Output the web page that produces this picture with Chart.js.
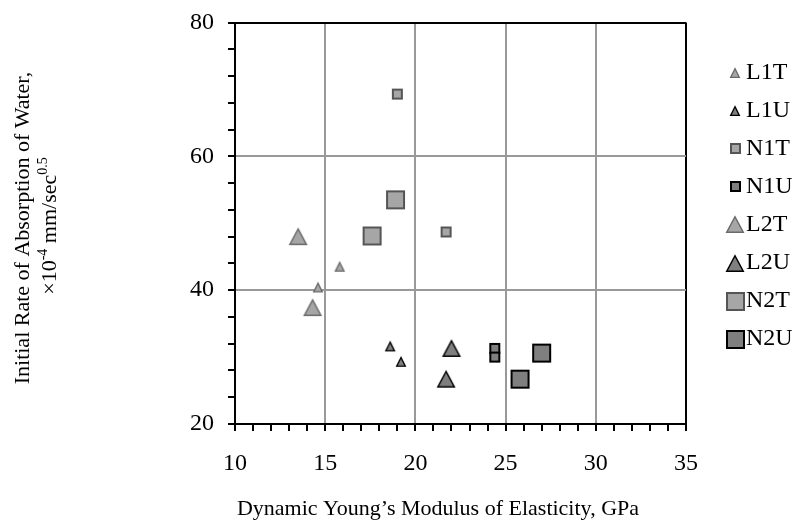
<!DOCTYPE html>
<html>
<head>
<meta charset="utf-8">
<script src="https://cdn.jsdelivr.net/npm/chart.js@4/dist/chart.umd.min.js"></script>
<style>
  html, body { margin: 0; padding: 0; background: #fff; }
  #c { display: block; }
</style>
</head>
<body>
<canvas id="c" width="800" height="527"></canvas>
<script>
// Series: dynamic modulus (GPa) vs initial rate of absorption (x10^-4 mm/sec^0.5)
const seriesNames = ['L1T', 'L1U', 'N1T', 'N1U', 'L2T', 'L2U', 'N2T', 'N2U'];
const L1T_x = [14.6, 15.8];  const L1T_y = [40.4, 43.5];
const L1U_x = [18.6, 19.2];  const L1U_y = [31.6, 29.3];
const N1T_x = [19.0, 21.7];  const N1T_y = [69.3, 48.7];
const N1U_x = [24.4, 24.4];  const N1U_y = [31.3, 30.0];
const L2T_x = [13.5, 14.3];  const L2T_y = [48.0, 37.4];
const L2U_x = [22.0, 21.7];  const L2U_y = [31.3, 26.7];
const N2T_x = [17.6, 18.9];  const N2T_y = [48.1, 53.5];
const N2U_x = [27.0, 25.8];  const N2U_y = [30.6, 26.7];

const xTicks = [10, 15, 20, 25, 30, 35];
const yTicks = [20, 40, 60, 80];
const xTitle = 'Dynamic Young\u2019s Modulus of Elasticity, GPa';
const yTitleLine1 = 'Initial Rate of Absorption of Water,';
const yTitleLine2 = [{ t: '\u00d710' }, { t: '-4', sup: true }, { t: ' mm/sec' }, { t: '0.5', sup: true }];

const FAMILY = '"Liberation Serif", "Times New Roman", serif';
const LIGHT = '#a6a6a6', DARK = '#7f7f7f';

// Marker images, centred on their bounding box
function marker(shape, w, h, fill, stroke, lw) {
  const pad = 3;
  const c = document.createElement('canvas');
  c.width = Math.round(w + pad * 2);
  c.height = Math.round(h + pad * 2);
  const g = c.getContext('2d');
  const cx = c.width / 2, cy = c.height / 2;
  g.fillStyle = fill; g.strokeStyle = stroke; g.lineWidth = lw; g.lineJoin = 'miter';
  g.beginPath();
  if (shape === 'tri') {
    g.moveTo(cx, cy - h / 2 + lw / 2);
    g.lineTo(cx + w / 2 - lw / 2, cy + h / 2 - lw / 2);
    g.lineTo(cx - w / 2 + lw / 2, cy + h / 2 - lw / 2);
    g.closePath();
  } else {
    g.rect(cx - w / 2 + lw / 2, cy - h / 2 + lw / 2, w - lw, h - lw);
  }
  g.fill(); g.stroke();
  return c;
}

const styles = {
  L1T: marker('tri', 10, 10, LIGHT, '#6a6a6a', 1.3),
  L1U: marker('tri', 10, 10, DARK, '#000', 1.3),
  N1T: marker('rect', 11, 11, LIGHT, '#555', 2),
  N1U: marker('rect', 11, 11, DARK, '#000', 2),
  L2T: marker('tri', 18, 17, LIGHT, '#6a6a6a', 1.5),
  L2U: marker('tri', 18, 17, DARK, '#000', 1.5),
  N2T: marker('rect', 19, 19, LIGHT, '#555', 2),
  N2U: marker('rect', 19, 19, DARK, '#000', 2)
};

const seriesX = { L1T: L1T_x, L1U: L1U_x, N1T: N1T_x, N1U: N1U_x, L2T: L2T_x, L2U: L2U_x, N2T: N2T_x, N2U: N2U_x };
const seriesY = { L1T: L1T_y, L1U: L1U_y, N1T: N1T_y, N1U: N1U_y, L2T: L2T_y, L2U: L2U_y, N2T: N2T_y, N2U: N2U_y };

const datasets = seriesNames.map(name => ({
  label: name,
  data: seriesX[name].map((x, i) => ({ x: x, y: seriesY[name][i] })),
  pointStyle: styles[name],
  pointRadius: 6,
  showLine: false
}));

// Legend, axis titles (with superscripts) drawn over the chart
const overlay = {
  id: 'overlay',
  afterDraw(chart) {
    const ctx = chart.ctx;
    ctx.save();
    ctx.fillStyle = '#000';

    // legend column
    ctx.font = '24px ' + FAMILY;
    ctx.textAlign = 'left';
    ctx.textBaseline = 'middle';
    chart.data.datasets.forEach((ds, i) => {
      const y = 71.5 + i * 38.1;
      const img = ds.pointStyle;
      ctx.drawImage(img, Math.round(735 - img.width / 2), Math.round(y + 1 - img.height / 2));
      ctx.fillText(ds.label, 746, y + 1);
    });

    // x title
    ctx.font = '22px ' + FAMILY;
    ctx.textAlign = 'center';
    ctx.textBaseline = 'alphabetic';
    ctx.fillText(xTitle, 438, 515);

    // y title, two rotated lines
    ctx.save();
    ctx.translate(29, 228);
    ctx.rotate(-Math.PI / 2);
    ctx.fillText(yTitleLine1, 0, 0);
    ctx.restore();

    ctx.save();
    ctx.translate(56, 226);
    ctx.rotate(-Math.PI / 2);
    ctx.textAlign = 'left';
    const mainF = '22px ' + FAMILY, supF = '14px ' + FAMILY;
    let total = 0;
    yTitleLine2.forEach(p => { ctx.font = p.sup ? supF : mainF; total += ctx.measureText(p.t).width; });
    let x = -total / 2;
    yTitleLine2.forEach(p => {
      ctx.font = p.sup ? supF : mainF;
      ctx.fillText(p.t, x, p.sup ? -9 : 0);
      x += ctx.measureText(p.t).width;
    });
    ctx.restore();

    ctx.restore();
  }
};

const tickFont = { family: FAMILY, size: 24 };

new Chart(document.getElementById('c'), {
  type: 'scatter',
  data: { datasets: datasets },
  options: {
    responsive: false,
    animation: false,
    events: [],
    layout: { padding: { top: 22.5, right: 114, left: 0, bottom: 0 } },
    plugins: { legend: { display: false }, tooltip: { enabled: false } },
    scales: {
      x: {
        type: 'linear',
        min: xTicks[0], max: xTicks[xTicks.length - 1],
        afterFit(scale) { scale.height = 103; scale.paddingLeft = 0; scale.paddingRight = 0; },
        ticks: {
          stepSize: 1, autoSkip: false, maxRotation: 0, padding: 18,
          color: '#000', font: tickFont,
          callback: v => (xTicks.includes(v) ? String(v) : '')
        },
        grid: {
          color: c => (c.tick && xTicks.includes(c.tick.value) ? (c.tick.value === 35 ? '#000' : '#999') : 'rgba(0,0,0,0)'),
          lineWidth: 2,
          tickColor: '#000', tickWidth: 2, tickLength: 7
        },
        border: { color: '#000', width: 2 }
      },
      y: {
        type: 'linear',
        min: yTicks[0], max: yTicks[yTicks.length - 1],
        afterFit(scale) { scale.width = 235; scale.paddingTop = 0; scale.paddingBottom = 0; },
        ticks: {
          stepSize: 4, autoSkip: false, padding: 14,
          color: '#000', font: tickFont,
          callback: v => (yTicks.includes(v) ? String(v) : '')
        },
        grid: {
          color: c => (c.tick && yTicks.includes(c.tick.value) ? (c.tick.value === 80 ? '#000' : '#999') : 'rgba(0,0,0,0)'),
          lineWidth: 2,
          tickColor: '#000', tickWidth: 2, tickLength: 7
        },
        border: { color: '#000', width: 2 }
      }
    }
  },
  plugins: [overlay]
});
</script>
</body>
</html>
